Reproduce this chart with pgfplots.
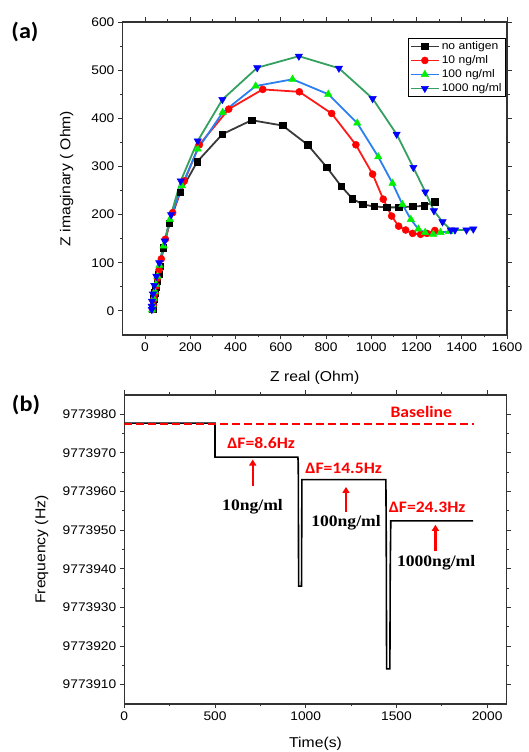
\documentclass[border=0pt]{standalone}
\usepackage{fontspec}
\setmainfont{Liberation Sans}[FakeStretch=1.1]
\newfontfamily\calb{Carlito}[FakeStretch=1.1]
\newfontfamily\tnr{Liberation Serif}[FakeStretch=1.1]
\usepackage{pgfplots}
\pgfplotsset{compat=1.18}
\usetikzlibrary{arrows.meta}
\definecolor{lblack}{HTML}{3A3A3A}
\definecolor{lred}{HTML}{FF1A1A}
\definecolor{lblue}{HTML}{2A80F0}
\definecolor{lgreen}{HTML}{35A060}
\definecolor{mgreen}{HTML}{00F000}
\definecolor{mblue}{HTML}{0000FF}
\definecolor{axgray}{HTML}{333333}
\pgfplotsset{
  commonax/.style={
    scale only axis,
    anchor=south west,
    axis line style={axgray, line width=1.1pt},
    tick align=outside,
    major tick length=4.5pt,
    minor tick length=2.5pt,
    every tick/.style={axgray, line width=0.9pt},
    minor x tick num=1,
    minor y tick num=1,
    /pgf/number format/assume math mode=true,
    /pgf/number format/1000 sep={},
    tick label style={font=\fontsize{12.5}{14}\selectfont},
    label style={font=\fontsize{14.3}{16}\selectfont},
  }
}
\begin{document}
\begin{tikzpicture}
\useasboundingbox (0pt,0pt) rectangle (529pt,752pt);
\node[font=\calb\bfseries\fontsize{22}{24}\selectfont] at (25pt,720pt) {(a)};
\node[font=\calb\bfseries\fontsize{22}{24}\selectfont] at (26pt,347pt) {(b)};

% ---------------- (a) ----------------
\begin{axis}[commonax,
  at={(122.4pt,417pt)},
  width=384.6pt, height=313pt,
  xmin=-100, xmax=1600, ymin=-50, ymax=600,
  xtick={0,200,...,1600}, ytick={0,100,...,600},
  xlabel={Z real (Ohm)},
  ylabel={Z imaginary ( Ohm)},
  xlabel style={at={(axis description cs:0.5,-0.137)}, anchor=center},
  ylabel style={at={(axis description cs:-0.145,0.5)}, anchor=center},
  legend style={at={(rel axis cs:0.743,0.949)}, anchor=north west,
    draw=black, line width=0.6pt, font=\fontsize{11}{12.5}\selectfont,
    inner sep=1.5pt, row sep=0.5pt, cells={anchor=west}},
  legend image code/.code={\draw[mark repeat=2,mark phase=2,#1] plot coordinates {(0pt,0pt) (14pt,0pt) (28pt,0pt)};},
]
\addplot[lblack, line width=1.8pt, mark=square*, mark size=3.2pt, mark options={black, fill=black, line width=0.5pt}] coordinates {
(34,4) (36,14) (39,25) (43,38) (48,50) (53,62) (60,76) (68,93) (81,131) (108,182) (155,246) (231,310) (342,367) (471,396) (608,385) (719,345) (804,298) (867,259) (917,233) (962,221) (1013,217) (1068,215) (1122,215) (1183,217) (1233,218) (1280,227)};
\addlegendentry{no antigen}
\addplot[lred, line width=1.8pt, mark=*, mark size=3.5pt, mark options={red, fill=red, line width=0.5pt}] coordinates {
(33,3) (36,12) (40,25) (44,37) (49,52) (55,68) (62,85) (72,108) (90,149) (122,204) (174,270) (240,345) (370,419) (520,460) (682,455) (825,410) (932,345) (1006,284) (1053,232) (1090,197) (1121,176) (1152,168) (1183,161) (1218,159) (1246,161) (1281,167)};
\addlegendentry{10 ng/ml}
\addplot[lblue, line width=1.8pt, mark=triangle*, mark size=4.2pt, mark options={mgreen, fill=mgreen, line width=0.5pt}] coordinates {
(31,2) (34,12) (38,26) (43,40) (48,55) (55,72) (64,95) (82,135) (110,190) (163,260) (233,336) (343,412) (489,467) (652,481) (810,450) (938,390) (1031,320) (1094,265) (1138,221) (1175,190) (1208,170) (1238,163) (1274,159) (1306,163) (1344,165)};
\addlegendentry{100 ng/ml}
\addplot[lgreen, line width=1.8pt, mark=triangle*, mark size=4.2pt, mark options={mblue, fill=mblue, rotate=180, line width=0.5pt}] coordinates {
(30,3) (29,10) (31,20) (35,35) (41,53) (50,72) (63,100) (87,145) (115,200) (158,270) (233,353) (342,439) (496,505) (680,529) (857,504) (1006,441) (1112,367) (1186,298) (1239,247) (1277,208) (1315,185) (1352,168) (1370,168) (1421,168) (1451,170)};
\addlegendentry{1000 ng/ml}
\end{axis}

% ---------------- (b) ----------------
% y values are offsets from 9773900 Hz
\begin{axis}[commonax,
  at={(124.3pt,48pt)},
  width=382.4pt, height=309pt,
  xmin=0, xmax=2108, ymin=5, ymax=85,
  xtick={0,500,...,2000},
  ytick={10,20,...,80},
  yticklabels={9773910,9773920,9773930,9773940,9773950,9773960,9773970,9773980},
  xlabel={Time(s)},
  ylabel={Frequency (Hz)},
  xlabel style={at={(axis description cs:0.5,-0.13)}, anchor=center},
  ylabel style={at={(axis description cs:-0.216,0.5)}, anchor=center},
]
\addplot[black, line width=1.6pt] coordinates {
(0,77.7) (500,77.7) (500,68.9) (957,68.9) (959,67.2) (961,35.5) (977,35.5) (979,63.1) (1442,63.1) (1444,47.6) (1446,14.1) (1464,14.1) (1466,40) (1469,52.4) (1923,52.4)};
\addplot[red, line width=1.8pt, dash pattern=on 8pt off 4pt] coordinates {(0,77.5) (1925,77.5)};

\node[text=red, font=\calb\bfseries\fontsize{16}{18}\selectfont] at (axis cs:1637,80.6) {Baseline};
\node[text=red, font=\calb\bfseries\fontsize{16}{18}\selectfont] at (axis cs:754,72.6) {ΔF=8.6Hz};
\node[text=red, font=\calb\bfseries\fontsize{16}{18}\selectfont] at (axis cs:1209,66.1) {ΔF=14.5Hz};
\node[text=red, font=\calb\bfseries\fontsize{16}{18}\selectfont] at (axis cs:1669,55.8) {ΔF=24.3Hz};
\node[font=\tnr\bfseries\fontsize{16}{18}\selectfont] at (axis cs:707,56.2) {10ng/ml};
\node[font=\tnr\bfseries\fontsize{16}{18}\selectfont] at (axis cs:1222,51.9) {100ng/ml};
\node[font=\tnr\bfseries\fontsize{16}{18}\selectfont] at (axis cs:1719,41.7) {1000ng/ml};
\draw[red, line width=2.2pt, -{Triangle[width=7pt,length=6pt]}] (axis cs:708,61.5) -- (axis cs:708,68.3);
\draw[red, line width=2.2pt, -{Triangle[width=7pt,length=6pt]}] (axis cs:1222,54.7) -- (axis cs:1222,61.2);
\draw[red, line width=2.2pt, -{Triangle[width=7pt,length=6pt]}] (axis cs:1715,44.5) -- (axis cs:1715,51.4);
\end{axis}
\end{tikzpicture}
\end{document}
